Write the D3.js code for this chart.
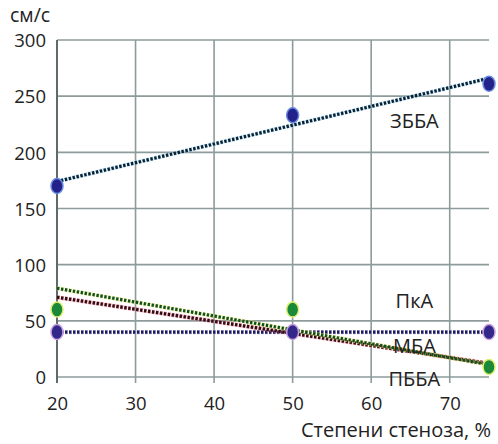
<!DOCTYPE html>
<html><head><meta charset="utf-8">
<script src="https://cdn.jsdelivr.net/npm/d3@7"></script>
<style>
body{margin:0;background:#fff;}
text{font-family:"Open Sans",sans-serif;fill:#222;}
</style></head>
<body><svg id="c" width="498" height="444"></svg>
<script>
// Data
const xTicks = [20, 30, 40, 50, 60, 70];
const yTicks = [0, 50, 100, 150, 200, 250, 300];
const stenosis = [20, 50, 75];           // x positions of measured points
const zbbaPts = [170, 233, 261];         // ЗББА
const pkaPts = [60, 60, 9];              // ПкА (green)
const mbaPts = [40, 40, 40];             // МБА / points at 40
const trendX = [20, 75];
const zbbaTrend = [174, 266];
const greenTrend = [79, 11];
const redTrend = [71, 12];
const navyTrend = [40, 40];
const labels = ["ЗББА", "ПкА", "МБА", "ПББА"];
const labelX = [65.5, 65.5, 65.5, 65.5];
const labelY = [222, 61, 21, -8];

const svg = d3.select("#c");
const x = d3.scaleLinear().domain([20, 75]).range([57, 489]);
const y = d3.scaleLinear().domain([0, 300]).range([377, 40]);

// grid
svg.append("g").selectAll("line").data(yTicks).join("line")
  .attr("x1", x(20)).attr("x2", x(75))
  .attr("y1", d => y(d)).attr("y2", d => y(d))
  .attr("stroke", "#8d9b9b").attr("stroke-width", 1.6);
svg.append("g").selectAll("line").data(xTicks.slice(1)).join("line")
  .attr("x1", d => x(d)).attr("x2", d => x(d))
  .attr("y1", y(300)).attr("y2", y(0) + 6)
  .attr("stroke", "#8d9b9b").attr("stroke-width", 1.6);
svg.append("line").attr("x1", x(20)).attr("x2", x(20))
  .attr("y1", y(300)).attr("y2", y(0) + 6)
  .attr("stroke", "#5d6b6b").attr("stroke-width", 2);

// axes labels via d3 axes
const yAxis = svg.append("g").attr("transform", `translate(${x(20) - 11},0)`)
  .call(d3.axisLeft(y).tickValues(yTicks).tickSize(0).tickPadding(0));
yAxis.select(".domain").remove();
yAxis.selectAll("text").attr("font-size", 18.5).attr("fill", "#222").attr("dy", "0.36em")
  .style("font-family", "Open Sans");
const xAxis = svg.append("g").attr("transform", `translate(0,${y(0) + 20})`)
  .call(d3.axisBottom(x).tickValues(xTicks).tickSize(0).tickPadding(0));
xAxis.select(".domain").remove();
xAxis.selectAll("text").attr("font-size", 18.5).attr("fill", "#222").attr("dy", "0.71em")
  .style("font-family", "Open Sans");

svg.append("text").attr("x", 10).attr("y", 22).attr("font-size", 19.5).text("см/с");
svg.append("text").attr("x", 491).attr("y", 437).attr("text-anchor", "end")
  .attr("font-size", 20).text("Степени стеноза, %");

// trend lines
function trend(vals, halo, dot) {
  const line = d3.line().x((d, i) => x(trendX[i])).y(d => y(d));
  svg.append("path").attr("d", line(vals)).attr("fill", "none")
    .attr("stroke", halo).attr("stroke-width", 4.2).attr("stroke-dasharray", "3,1").attr("opacity", 0.75);
  svg.append("path").attr("d", line(vals)).attr("fill", "none")
    .attr("stroke", dot).attr("stroke-width", 3.2).attr("stroke-dasharray", "2.4,1.6");
}
trend(zbbaTrend, "#8fd0f0", "#0d2030");
trend(navyTrend, "#b8b0e8", "#1d1d55");
trend(redTrend, "#f07090", "#2a1010");
trend(greenTrend, "#e8e870", "#105020");

// points
function pts(vals, fill, halo) {
  svg.append("g").selectAll("ellipse").data(vals).join("ellipse")
    .attr("cx", (d, i) => x(stenosis[i])).attr("cy", d => y(d))
    .attr("rx", 6).attr("ry", 7.5)
    .attr("fill", fill).attr("stroke", halo).attr("stroke-width", 1.5);
}
pts(mbaPts, "#33288a", "#c8a0e0");
pts(pkaPts, "#1a8a3a", "#e0f070");
pts(zbbaPts, "#22228a", "#6a8ae0");

// series labels
svg.append("g").selectAll("text").data(labels).join("text")
  .attr("x", (d, i) => x(labelX[i])).attr("y", (d, i) => y(labelY[i]))
  .attr("text-anchor", "middle").attr("font-size", 20).text(d => d);
</script></body></html>
